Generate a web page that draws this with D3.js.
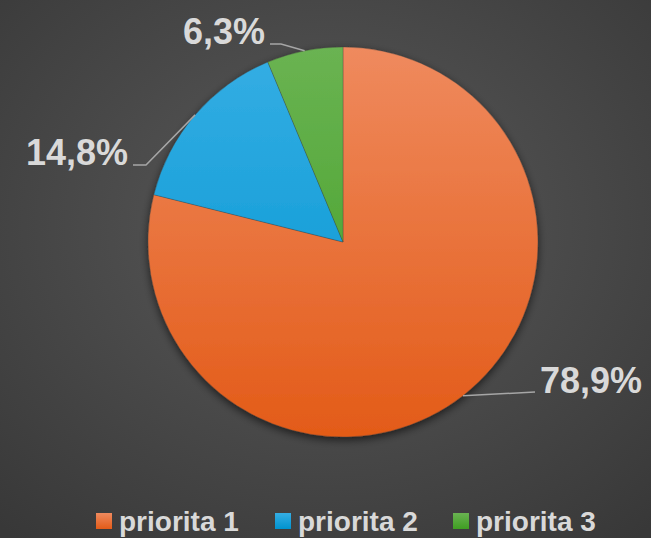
<!DOCTYPE html>
<html>
<head>
<meta charset="utf-8">
<script src="https://cdn.jsdelivr.net/npm/d3@7"></script>
<style>
  html, body { margin: 0; padding: 0; background: #444; }
  svg { display: block; }
</style>
</head>
<body>
<svg id="chart" width="651" height="538"></svg>
<script>
const categories = ["priorita 1", "priorita 2", "priorita 3"];
const values = [78.9, 14.8, 6.3];
const labels = ["78,9%", "14,8%", "6,3%"];
const colorsTop = ["#EF8A5E", "#35AEE4", "#6AB352"];
const colorsBottom = ["#E35B18", "#0093CF", "#3F9E22"];

const W = 651, H = 538;
const cx = 343, cy = 242, R = 195;
const svg = d3.select("#chart");
const defs = svg.append("defs");

// background radial gradient
const bg = defs.append("radialGradient").attr("id", "bg")
  .attr("cx", 0.5).attr("cy", 0.42).attr("r", 0.75);
bg.append("stop").attr("offset", "0%").attr("stop-color", "#5a5a5a");
bg.append("stop").attr("offset", "100%").attr("stop-color", "#383838");
svg.append("rect").attr("width", W).attr("height", H).attr("fill", "url(#bg)");

// slice gradients (in the pie group's local coordinates)
categories.forEach((c, i) => {
  const g = defs.append("linearGradient").attr("id", "g" + i)
    .attr("gradientUnits", "userSpaceOnUse")
    .attr("x1", 0).attr("y1", -R).attr("x2", 0).attr("y2", R);
  g.append("stop").attr("offset", "0%").attr("stop-color", colorsTop[i]);
  g.append("stop").attr("offset", "100%").attr("stop-color", colorsBottom[i]);
  const lg = defs.append("linearGradient").attr("id", "lg" + i)
    .attr("x1", 0).attr("y1", 0).attr("x2", 0).attr("y2", 1);
  lg.append("stop").attr("offset", "0%").attr("stop-color", colorsTop[i]);
  lg.append("stop").attr("offset", "100%").attr("stop-color", colorsBottom[i]);
});

// shadow filter
const f = defs.append("filter").attr("id", "shadow")
  .attr("x", "-20%").attr("y", "-20%").attr("width", "140%").attr("height", "140%");
f.append("feGaussianBlur").attr("in", "SourceAlpha").attr("stdDeviation", 4).attr("result", "b");
f.append("feOffset").attr("in", "b").attr("dx", 0).attr("dy", 3).attr("result", "o");
f.append("feComponentTransfer").attr("in", "o").attr("result", "s")
  .append("feFuncA").attr("type", "linear").attr("slope", 0.6);
const m = f.append("feMerge");
m.append("feMergeNode").attr("in", "s");
m.append("feMergeNode").attr("in", "SourceGraphic");

const pie = d3.pie().sort(null).value(d => d);
const arcs = pie(values);
const arc = d3.arc().innerRadius(0).outerRadius(R);

const gp = svg.append("g").attr("transform", `translate(${cx},${cy})`);
gp.append("g").attr("filter", "url(#shadow)")
  .selectAll("path").data(arcs).join("path")
  .attr("d", arc)
  .attr("fill", (d, i) => `url(#g${i})`)
  .attr("stroke", "rgba(60,60,60,0.5)")
  .attr("stroke-width", 0.6);

// labels and leader lines
function mid(d) {
  const a = (d.startAngle + d.endAngle) / 2;
  return [R * Math.sin(a), -R * Math.cos(a)];
}
const labelPos = [
  { x: 540, y: 393, anchor: "start", line: p => [[p[0], p[1]], [535 - cx, 392 - cy]] },
  { x: 128, y: 165, anchor: "end", line: p => [[p[0], p[1]], [146 - cx, 165 - cy], [133 - cx, 165 - cy]] },
  { x: 265, y: 44, anchor: "end", line: p => [[p[0], p[1]], [281 - cx, 44 - cy], [270 - cx, 44 - cy]] }
];
const line = d3.line();
arcs.forEach((d, i) => {
  const p = mid(d);
  gp.append("path").attr("d", line(labelPos[i].line(p)))
    .attr("fill", "none").attr("stroke", "#a6a6a6").attr("stroke-width", 1.5);
  svg.append("text").attr("x", labelPos[i].x).attr("y", labelPos[i].y)
    .attr("text-anchor", labelPos[i].anchor)
    .attr("font-family", "Liberation Sans, Arial, sans-serif")
    .attr("font-weight", "bold").attr("font-size", 36)
    .attr("fill", "#d9d9d9")
    .text(labels[i]);
});

// legend
const legX = [96, 275, 453];
const leg = svg.append("g");
categories.forEach((c, i) => {
  leg.append("rect").attr("x", legX[i]).attr("y", 513).attr("width", 16).attr("height", 16)
    .attr("fill", `url(#lg${i})`);
  leg.append("text").attr("x", legX[i] + 23).attr("y", 531)
    .attr("font-family", "Liberation Sans, Arial, sans-serif")
    .attr("font-weight", "bold").attr("font-size", 28)
    .attr("fill", "#d9d9d9")
    .text(c);
});
</script>
</body>
</html>
